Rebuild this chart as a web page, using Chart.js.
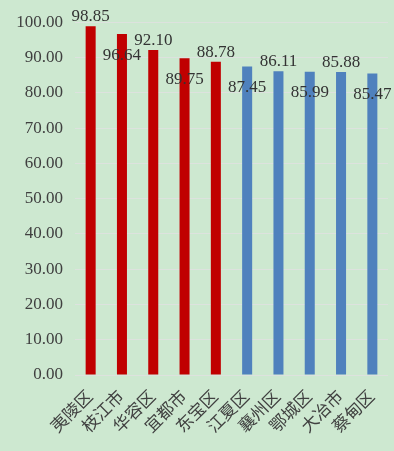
<!DOCTYPE html>
<html lang="zh">
<head>
  <meta charset="UTF-8">
  <title>区县得分</title>
  <script src="https://cdn.jsdelivr.net/npm/chart.js@4.4.3/dist/chart.umd.min.js"></script>
  <style>
    html, body { margin: 0; padding: 0; background: #cde8d0; }
    #wrap { width: 394px; height: 451px; position: relative; }
  </style>
</head>
<body>
  <div id="wrap"><canvas id="c"></canvas></div>
  <script>
    const regions = ["夷陵区", "枝江市", "华容区", "宜都市", "东宝区", "江夏区", "襄州区", "鄂城区", "大冶市", "蔡甸区"];
    const scores = [98.85, 96.64, 92.10, 89.75, 88.78, 87.45, 86.11, 85.99, 85.88, 85.47];
    const barColors = ["#c00000", "#c00000", "#c00000", "#c00000", "#c00000", "#4f81bd", "#4f81bd", "#4f81bd", "#4f81bd", "#4f81bd"];

    const FONT = '"Liberation Serif", "Noto Sans CJK SC", serif';

    // value labels, alternating above / just under the bar top
    const valueLabels = {
      id: "valueLabels",
      afterDatasetsDraw(chart) {
        const ctx = chart.ctx;
        const meta = chart.getDatasetMeta(0);
        ctx.save();
        ctx.font = "17px " + FONT;
        ctx.fillStyle = "#333333";
        ctx.textAlign = "center";
        meta.data.forEach((bar, i) => {
          const txt = scores[i].toFixed(2);
          if (i % 2 === 0) {
            ctx.textBaseline = "bottom";
            ctx.fillText(txt, bar.x, bar.y - 1);
          } else {
            ctx.textBaseline = "middle";
            ctx.fillText(txt, bar.x, bar.y + 21);
          }
        });
        ctx.restore();
      }
    };

    new Chart(document.getElementById("c"), {
      type: "bar",
      data: {
        labels: regions,
        datasets: [{
          data: scores,
          backgroundColor: barColors,
          categoryPercentage: 1,
          barPercentage: 0.32
        }]
      },
      options: {
        responsive: true,
        maintainAspectRatio: false,
        animation: false,
        layout: { padding: { top: 20, right: 6, left: 0, bottom: 0 } },
        plugins: { legend: { display: false }, tooltip: { enabled: false } },
        scales: {
          y: {
            min: 0, max: 100,
            ticks: {
              stepSize: 10,
              padding: 12,
              color: "#404040",
              font: { family: FONT, size: 17 },
              callback: v => v.toFixed(2)
            },
            grid: { color: "#dde2de", drawTicks: false },
            border: { display: false },
            afterFit(s) { s.width = 75; }
          },
          x: {
            ticks: {
              autoSkip: false,
              minRotation: 45, maxRotation: 45,
              padding: 4,
              color: "#404040",
              font: { family: FONT, size: 17 }
            },
            grid: { display: false },
            border: { display: false },
            afterFit(s) { s.height = 76; }
          }
        }
      },
      plugins: [valueLabels]
    });
  </script>
</body>
</html>
